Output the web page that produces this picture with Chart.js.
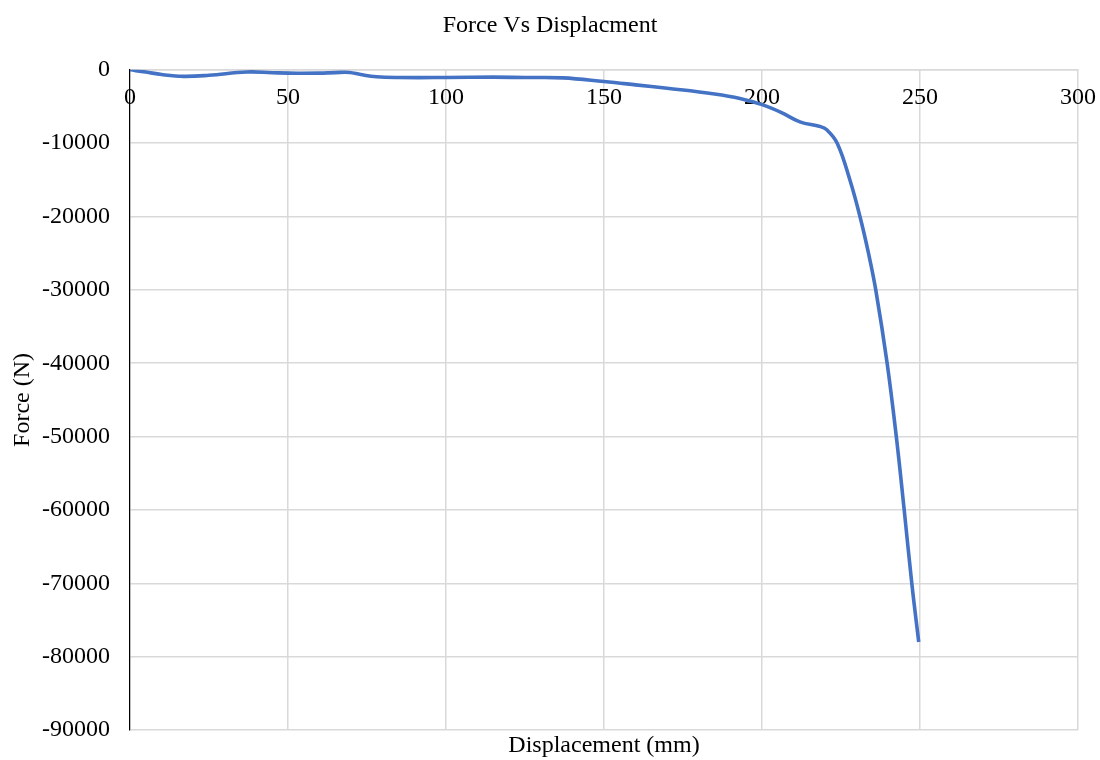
<!DOCTYPE html>
<html>
<head>
<meta charset="utf-8">
<title>Force Vs Displacment</title>
<script src="https://cdn.jsdelivr.net/npm/chart.js@4/dist/chart.umd.min.js"></script>
<style>
  html, body { margin: 0; padding: 0; background: #fff; }
  #wrap { width: 1100px; height: 760px; }
</style>
</head>
<body>
<div id="wrap"><canvas id="chart"></canvas></div>
<script>
// displacement (mm) and force (N) readings
const displacement = [0, 5, 10, 17, 25, 37, 45, 53, 60, 65, 69.5, 73, 78, 85, 100, 115, 125, 137,
  150, 160, 170, 185, 193, 200, 206, 212, 218.4, 220.5, 223.8, 227.8, 231, 233.7, 236, 239.6, 242.5, 245, 247.4, 249.6];
const force = [0, -300, -650, -900, -750, -300, -400, -470, -450, -380, -360, -650, -950, -1050, -1050, -1000, -1050, -1100,
  -1600, -2050, -2520, -3300, -3900, -4750, -5800, -7100, -7730, -8180, -10000, -15000, -20000, -25000, -30000, -40000, -50000, -60000, -70000, -78000];

const xTicks = [0, 50, 100, 150, 200, 250, 300];
const yTicks = [0, -10000, -20000, -30000, -40000, -50000, -60000, -70000, -80000, -90000];

const serif = "'Liberation Serif', 'Times New Roman', serif";
const gridColor = '#d9d9d9';

const points = displacement.map((d, i) => ({ x: d, y: force[i] }));

new Chart(document.getElementById('chart'), {
  type: 'line',
  data: {
    datasets: [{
      label: 'Force',
      data: points,
      borderColor: '#4472C4',
      borderWidth: 3.6,
      pointRadius: 0,
      fill: false,
      tension: 0.4
    }]
  },
  options: {
    responsive: true,
    maintainAspectRatio: false,
    animation: false,
    layout: { padding: 0 },
    plugins: {
      legend: { display: false },
      tooltip: { enabled: false },
      title: {
        display: true,
        text: 'Force Vs Displacment',
        color: '#000',
        font: { family: serif, size: 24, weight: 'normal' },
        padding: { top: 11, bottom: 30 }
      }
    },
    scales: {
      x: {
        type: 'linear',
        position: { y: 0 },
        min: 0,
        max: 300,
        afterBuildTicks: (s) => { s.ticks = xTicks.map(v => ({ value: v })); },
        // axis sits on the zero line, so it takes no room of its own
        afterFit: (s) => { s.height = 0; s.paddingLeft = 0; s.paddingRight = 22; },
        ticks: {
          color: '#000',
          padding: 14,
          maxRotation: 0,
          callback: (v) => String(v),
          font: { family: serif, size: 24 }
        },
        grid: { color: gridColor, lineWidth: 1.5, drawTicks: false },
        border: { color: gridColor, width: 1.5 }
      },
      x2: {
        type: 'linear',
        position: 'bottom',
        display: true,
        afterFit: (s) => { s.height = 30; s.paddingLeft = 0; s.paddingRight = 0; },
        ticks: { display: false },
        grid: { display: false, drawTicks: false },
        border: { display: false },
        title: {
          display: true,
          text: 'Displacement (mm)',
          color: '#000',
          font: { family: serif, size: 24 },
          padding: { top: 0, bottom: 0 }
        }
      },
      y: {
        type: 'linear',
        min: -90000,
        max: 0,
        afterFit: (s) => { s.width = 130; s.paddingTop = 0; s.paddingBottom = 0; },
        afterBuildTicks: (s) => { s.ticks = yTicks.map(v => ({ value: v })); },
        ticks: {
          color: '#000',
          padding: 20,
          callback: (v) => String(v),
          font: { family: serif, size: 24 }
        },
        grid: { color: gridColor, lineWidth: 1.5, drawTicks: false },
        border: { color: '#000', width: 1.2 },
        title: {
          display: true,
          text: 'Force (N)',
          color: '#000',
          font: { family: serif, size: 24 },
          padding: { top: 8, bottom: 0 }
        }
      }
    }
  }
});
</script>
</body>
</html>
